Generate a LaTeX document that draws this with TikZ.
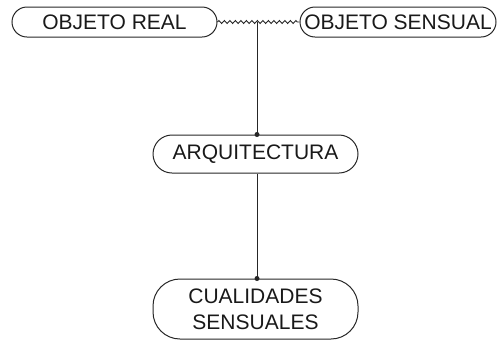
\documentclass[tikz,border=0pt]{standalone}
\usepackage{fontspec}
\setmainfont{Liberation Sans}
\usetikzlibrary{decorations.pathmorphing}
\begin{document}
\begin{tikzpicture}[x=1pt,y=1pt,
  box/.style={draw=black!85, line width=1pt, rounded corners=15pt, inner sep=0pt,
    font=\fontsize{21}{26}\selectfont, align=center, text=black!90},
  link/.style={draw=black!85, line width=1pt},
  wavy/.style={draw=black!85, line width=0.9pt, decorate,
    decoration={zigzag, amplitude=1.5pt, segment length=5.5pt}},
  dotend/.style={fill=black!85}]
\useasboundingbox (0,0) rectangle (497,-341);
\node[box, minimum width=205pt, minimum height=30pt] (real) at (114.5,-22) {OBJETO REAL};
\node[box, minimum width=196pt, minimum height=30pt] (sens) at (398,-22) {OBJETO SENSUAL};
\node[box, minimum width=205pt, minimum height=38pt, rounded corners=19pt] (arq) at (255.5,-154) {ARQUITECTURA};
\node[box, minimum width=205pt, minimum height=60pt, rounded corners=27pt] (cual) at (255.5,-309) {CUALIDADES\\SENSUALES};
\draw[wavy] (real.east) -- (sens.west);
\coordinate (j) at (257,-22);
\coordinate (ja) at (j |- arq.north);
\coordinate (jc) at (j |- cual.north);
\draw[link] (j) -- (ja);
\fill[dotend] (ja) circle (2.5pt);
\draw[link] (ja |- arq.south) -- (jc);
\fill[dotend] (jc) circle (2.5pt);
\end{tikzpicture}
\end{document}
